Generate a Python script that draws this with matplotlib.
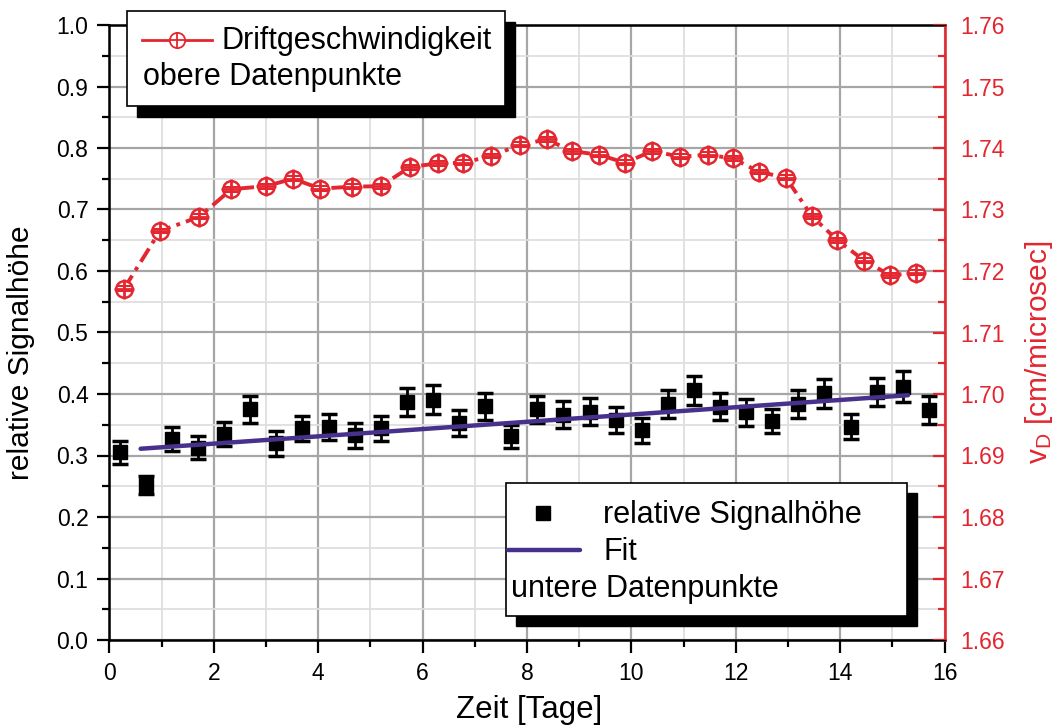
import numpy as np
import matplotlib.pyplot as plt
from matplotlib.lines import Line2D
from matplotlib.patches import Rectangle
from matplotlib.transforms import Affine2D
from matplotlib.ticker import MultipleLocator

plt.rcParams['font.family'] = ['Liberation Sans', 'DejaVu Sans']
plt.rcParams['mathtext.fontset'] = 'custom'
plt.rcParams['mathtext.rm'] = 'Liberation Sans'
plt.rcParams['mathtext.it'] = 'Liberation Sans:italic'

# lower data: relative signal height (left axis)
t_sig = np.arange(0.2, 15.8, 0.5)
sig = [0.305, 0.252, 0.327, 0.313, 0.335, 0.375, 0.320, 0.344, 0.347, 0.333,
       0.344, 0.387, 0.391, 0.353, 0.380, 0.331, 0.375, 0.366, 0.371, 0.358,
       0.341, 0.384, 0.406, 0.379, 0.370, 0.356, 0.384, 0.401, 0.347, 0.403,
       0.412, 0.374]
sig_err = [0.019, 0.015, 0.019, 0.019, 0.020, 0.022, 0.020, 0.020, 0.021, 0.020,
           0.021, 0.023, 0.023, 0.021, 0.022, 0.018, 0.022, 0.022, 0.022, 0.021,
           0.020, 0.023, 0.024, 0.022, 0.022, 0.020, 0.023, 0.024, 0.020, 0.023,
           0.025, 0.022]

# linear fit
fit_x = [0.6, 15.3]
fit_y = [0.311, 0.398]

# upper data: drift velocity (right axis)
t_vd = [0.28, 0.97, 1.72, 2.34, 3.0, 3.52, 4.04, 4.64, 5.2, 5.76, 6.29, 6.78,
        7.31, 7.87, 8.38, 8.86, 9.38, 9.88, 10.4, 10.93, 11.46, 11.95, 12.45,
        12.96, 13.46, 13.95, 14.46, 14.96, 15.45]
vd = [1.7171, 1.7265, 1.7288, 1.7333, 1.7338, 1.7350, 1.7334, 1.7337, 1.7338,
      1.7369, 1.7375, 1.7376, 1.7387, 1.7405, 1.7414, 1.7395, 1.7389, 1.7376,
      1.7395, 1.7386, 1.7389, 1.7383, 1.7361, 1.7352, 1.7289, 1.7250, 1.7217,
      1.7193, 1.7197]

RED = '#e3262f'
PURPLE = '#47318d'
W, H = 1057, 728

fig = plt.figure(figsize=(W / 100, H / 100), dpi=100)
ax = fig.add_axes([109.3 / W, 1 - 640 / H, (944.5 - 109.3) / W, 615 / H])
pix = Affine2D().scale(1 / W, -1 / H).translate(0, 1) + fig.transFigure

# grid
ax.set_axisbelow(True)
ax.grid(which='major', color='#a6a6a6', lw=1.6)
ax.grid(which='minor', color='#dedede', lw=1.3)

ax.errorbar(t_sig, sig, yerr=sig_err, fmt='s', color='black', ms=10,
            elinewidth=2, capsize=6, capthick=2.5, zorder=3)
ax.plot(fit_x, fit_y, color=PURPLE, lw=3.2, zorder=4, solid_capstyle='round')

ax.set_xlim(0, 16)
ax.set_ylim(0, 1.0)
ax.xaxis.set_major_locator(MultipleLocator(2))
ax.xaxis.set_minor_locator(MultipleLocator(1))
ax.yaxis.set_major_locator(MultipleLocator(0.1))
ax.yaxis.set_minor_locator(MultipleLocator(0.05))
ax.yaxis.set_major_formatter(lambda v, p: f'{v:.1f}')
ax.tick_params(which='major', direction='out', length=9, width=1.6, labelsize=16.5)
ax.tick_params(which='minor', direction='out', length=5, width=1.6)
ax.tick_params(axis='x', pad=7)
ax.tick_params(axis='y', pad=6)
for s in ['left', 'bottom', 'top']:
    ax.spines[s].set_linewidth(1.8)

ax2 = ax.twinx()
ax2.errorbar(t_vd, vd, yerr=0.0004, fmt='none', ecolor=RED, elinewidth=1.5,
             capsize=6, capthick=1.5, zorder=4)
ax2.plot(t_vd, vd, color=RED, lw=2.8, ls=(0, (4, 1.6, 1, 1.6)), marker='o', ms=12,
         mfc='white', mec=RED, mew=1.8, zorder=3)
ax2.plot(t_vd, vd, ls='none', marker='+', ms=14, mew=2, color=RED, zorder=5)
ax2.set_ylim(1.66, 1.76)
ax2.yaxis.set_major_locator(MultipleLocator(0.01))
ax2.yaxis.set_minor_locator(MultipleLocator(0.005))
ax2.yaxis.set_major_formatter(lambda v, p: f'{v:.2f}')
ax2.tick_params(which='major', direction='in', length=9, width=1.6, colors=RED,
                labelsize=16.5, pad=11)
ax2.tick_params(which='minor', direction='in', length=5, width=1.6, colors=RED)
ax2.spines['right'].set_color(RED)
ax2.spines['right'].set_linewidth(1.8)

# axis labels
fig.text(529, 710, 'Zeit [Tage]', transform=pix, ha='center', va='center', fontsize=22.5)
fig.text(21, 353, 'relative Signalhöhe', transform=pix, ha='center', va='center',
         rotation=90, fontsize=21.5)
fig.text(1039, 352, r'v$_{\mathrm{D}}$ [cm/microsec]', transform=pix, ha='center',
         va='center', rotation=90, fontsize=21.5, color=RED)

# upper legend box with shadow
fig.add_artist(Rectangle((137, 22), 378, 95, transform=pix, color='black', zorder=10))
fig.add_artist(Rectangle((127, 11), 378, 95, transform=pix, facecolor='white',
                         edgecolor='black', lw=1.2, zorder=11))
fig.add_artist(Line2D([142, 212], [39.5, 39.5], transform=pix, color=RED, lw=2, zorder=12))
fig.add_artist(Line2D([177], [39.5], transform=pix, color=RED, marker='o', ms=11,
                      mfc='white', mew=1.3, zorder=12))
fig.add_artist(Line2D([177], [39.5], transform=pix, color=RED, marker='+', ms=11,
                      mew=1.3, zorder=13))
fig.text(221, 49.5, 'Driftgeschwindigkeit', transform=pix, fontsize=22, va='baseline', zorder=13)
fig.text(143, 85, 'obere Datenpunkte', transform=pix, fontsize=22, va='baseline', zorder=13)

# lower legend box with shadow
fig.add_artist(Rectangle((516, 493), 401, 133, transform=pix, color='black', zorder=10))
fig.add_artist(Rectangle((506, 483), 401, 133, transform=pix, facecolor='white',
                         edgecolor='black', lw=1.2, zorder=11))
fig.add_artist(Line2D([543], [513], transform=pix, color='black', marker='s', ms=10,
                      ls='none', zorder=12))
fig.add_artist(Line2D([508, 580], [550, 550], transform=pix, color=PURPLE, lw=3.2,
                      solid_capstyle='round', zorder=12))
fig.text(603, 522.5, 'relative Signalhöhe', transform=pix, fontsize=22, va='baseline', zorder=13)
fig.text(603, 560, 'Fit', transform=pix, fontsize=22, va='baseline', zorder=13)
fig.text(511, 597, 'untere Datenpunkte', transform=pix, fontsize=22, va='baseline', zorder=13)

fig.savefig('out.png', dpi=100)
